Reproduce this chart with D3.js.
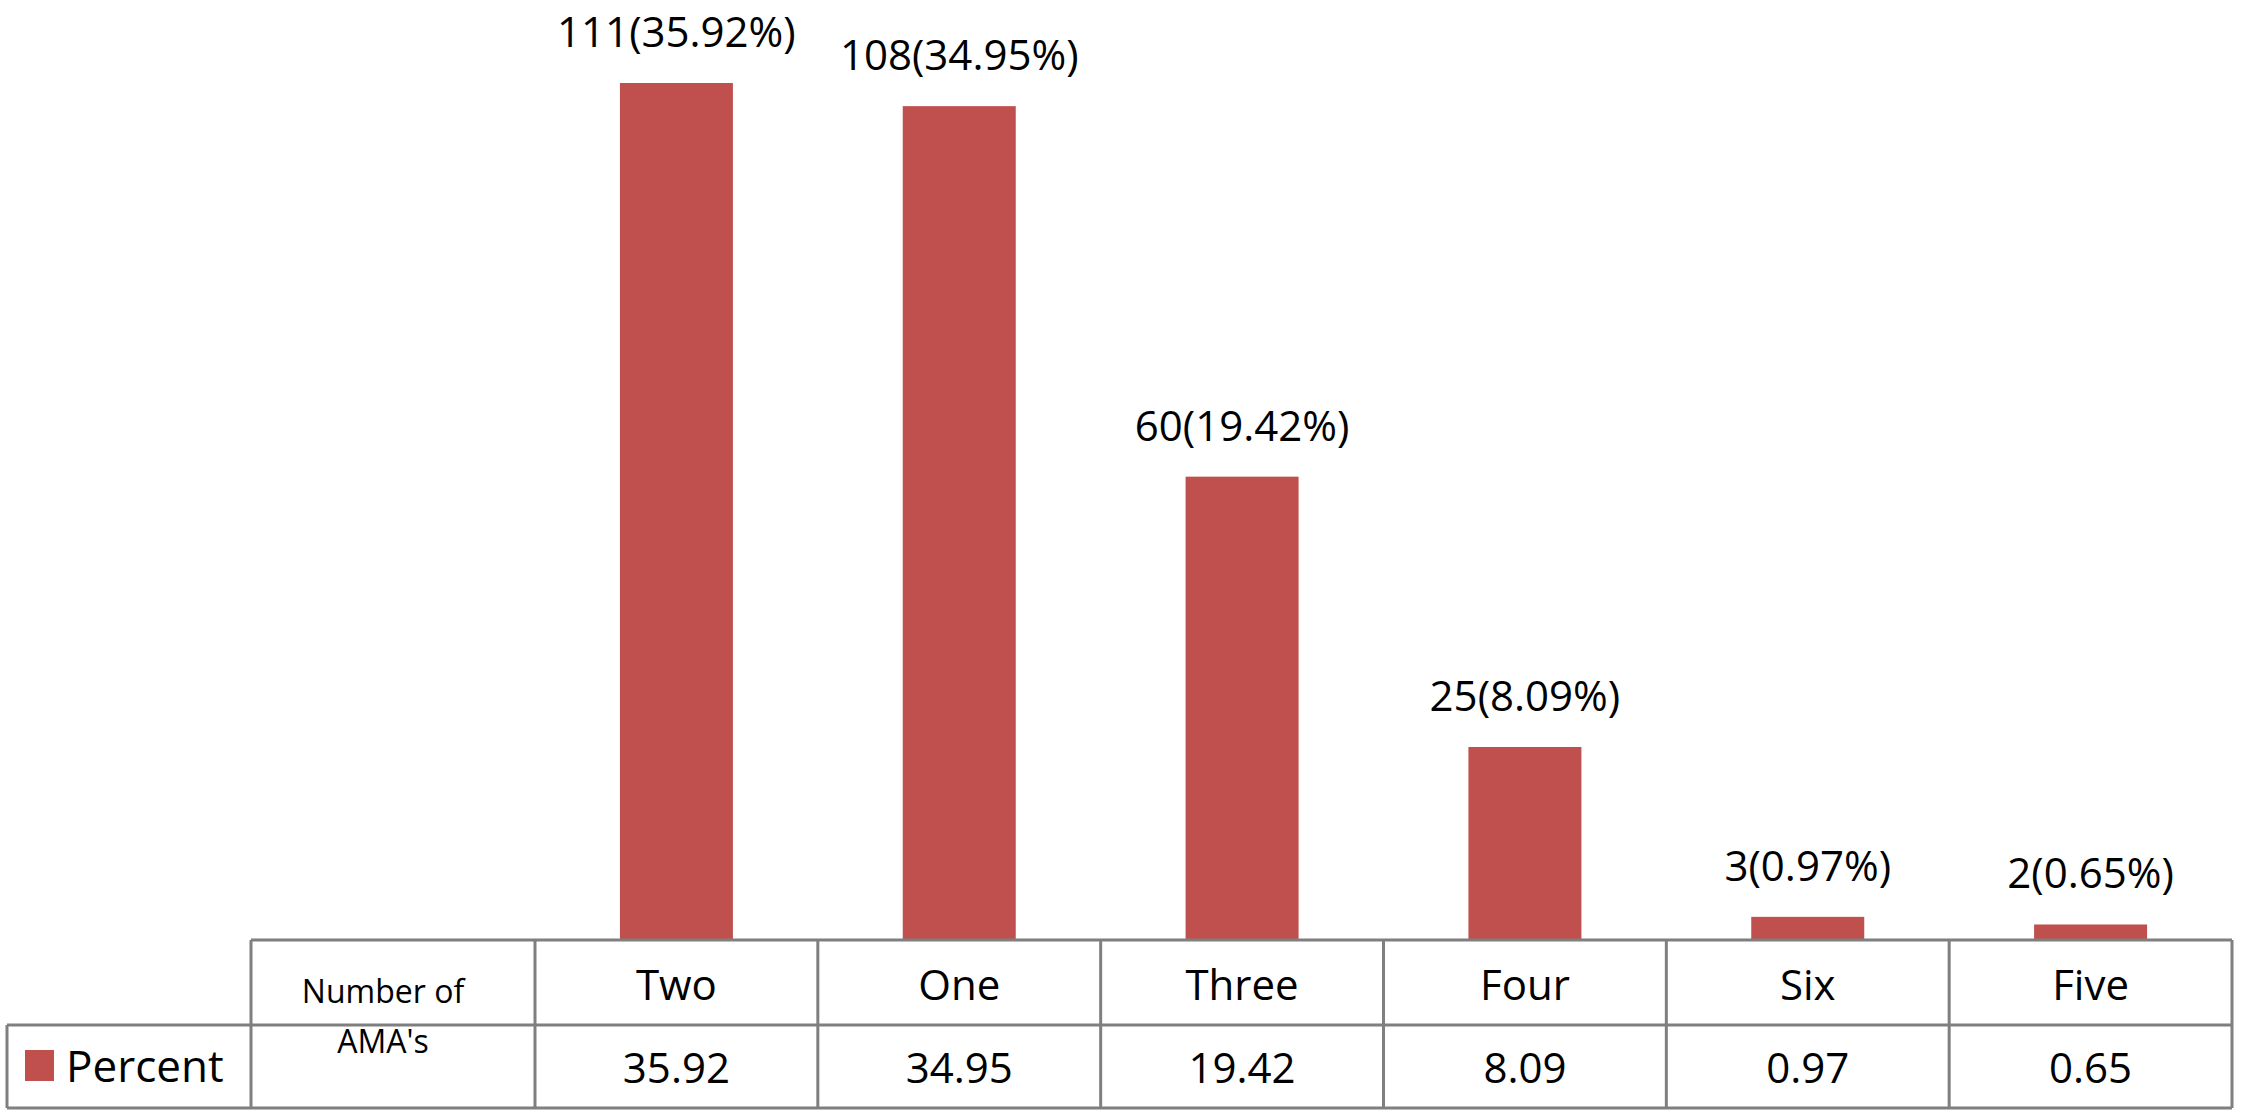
<!DOCTYPE html>
<html>
<head>
<meta charset="utf-8">
<script src="https://cdn.jsdelivr.net/npm/d3@7"></script>
<style>
  body { margin: 0; background: #fff; }
  text { font-family: "Open Sans", sans-serif; fill: #000; }
</style>
</head>
<body>
<script>
const categories = ["Two", "One", "Three", "Four", "Six", "Five"];
const counts = [111, 108, 60, 25, 3, 2];
const percents = [35.92, 34.95, 19.42, 8.09, 0.97, 0.65];
const seriesName = "Percent";
const headerLabel = ["Number of", "AMA's"];

const width = 2241, height = 1118;
const svg = d3.select("body").append("svg").attr("width", width).attr("height", height);

const baseY = 940, rowMid = 1025, tableBottom = 1108;
const gridColor = "#7f7f7f";
const barColor = "#c0504d";

let x = d3.scaleBand().domain(categories).range([535, 2232]).paddingInner(0).paddingOuter(0);
let y = d3.scaleLinear().domain([0, 35.92]).range([baseY, 83]);
let bw = 113;

let data = categories.map((c, i) => ({cat: c, n: counts[i], p: percents[i]}));

// bars
svg.selectAll("rect.bar").data(data).enter().append("rect")
  .attr("class", "bar")
  .attr("x", d => x(d.cat) + x.bandwidth() / 2 - bw / 2)
  .attr("width", bw)
  .attr("y", d => y(d.p))
  .attr("height", d => baseY - y(d.p))
  .attr("fill", barColor);

svg.selectAll("text.lab").data(data).enter().append("text")
  .attr("class", "lab")
  .attr("x", d => x(d.cat) + x.bandwidth() / 2)
  .attr("y", d => y(d.p) - 36)
  .attr("text-anchor", "middle")
  .attr("font-size", 42)
  .text(d => d.n + "(" + d.p.toFixed(2) + "%)");

// data table
let g = svg.append("g").attr("stroke", gridColor).attr("stroke-width", 3).attr("fill", "none");
let left = 251, right = 2232;
g.append("line").attr("x1", left).attr("x2", right).attr("y1", baseY).attr("y2", baseY);
g.append("line").attr("x1", 7).attr("x2", right).attr("y1", rowMid).attr("y2", rowMid);
g.append("line").attr("x1", 7).attr("x2", right).attr("y1", tableBottom).attr("y2", tableBottom);
g.append("line").attr("x1", 7).attr("x2", 7).attr("y1", rowMid).attr("y2", tableBottom);
g.append("line").attr("x1", left).attr("x2", left).attr("y1", baseY).attr("y2", tableBottom);
let edges = categories.map(c => x(c)).concat([right]);
g.selectAll("line.v").data(edges).enter().append("line")
  .attr("x1", d => d).attr("x2", d => d).attr("y1", baseY).attr("y2", tableBottom);

svg.selectAll("text.cat").data(data).enter().append("text")
  .attr("x", d => x(d.cat) + x.bandwidth() / 2)
  .attr("y", 1000)
  .attr("text-anchor", "middle")
  .attr("font-size", 42)
  .text(d => d.cat);

svg.selectAll("text.val").data(data).enter().append("text")
  .attr("x", d => x(d.cat) + x.bandwidth() / 2)
  .attr("y", 1083)
  .attr("text-anchor", "middle")
  .attr("font-size", 42)
  .text(d => d.p.toFixed(2));

svg.append("text").attr("x", 383).attr("y", 1003).attr("text-anchor", "middle")
  .attr("font-size", 32).text(headerLabel[0]);
svg.append("text").attr("x", 383).attr("y", 1053).attr("text-anchor", "middle")
  .attr("font-size", 32).text(headerLabel[1]);

// legend
svg.append("rect").attr("x", 25).attr("y", 1050).attr("width", 29).attr("height", 31).attr("fill", barColor);
svg.append("text").attr("x", 66).attr("y", 1082).attr("font-size", 44).text(seriesName);
</script>
</body>
</html>
